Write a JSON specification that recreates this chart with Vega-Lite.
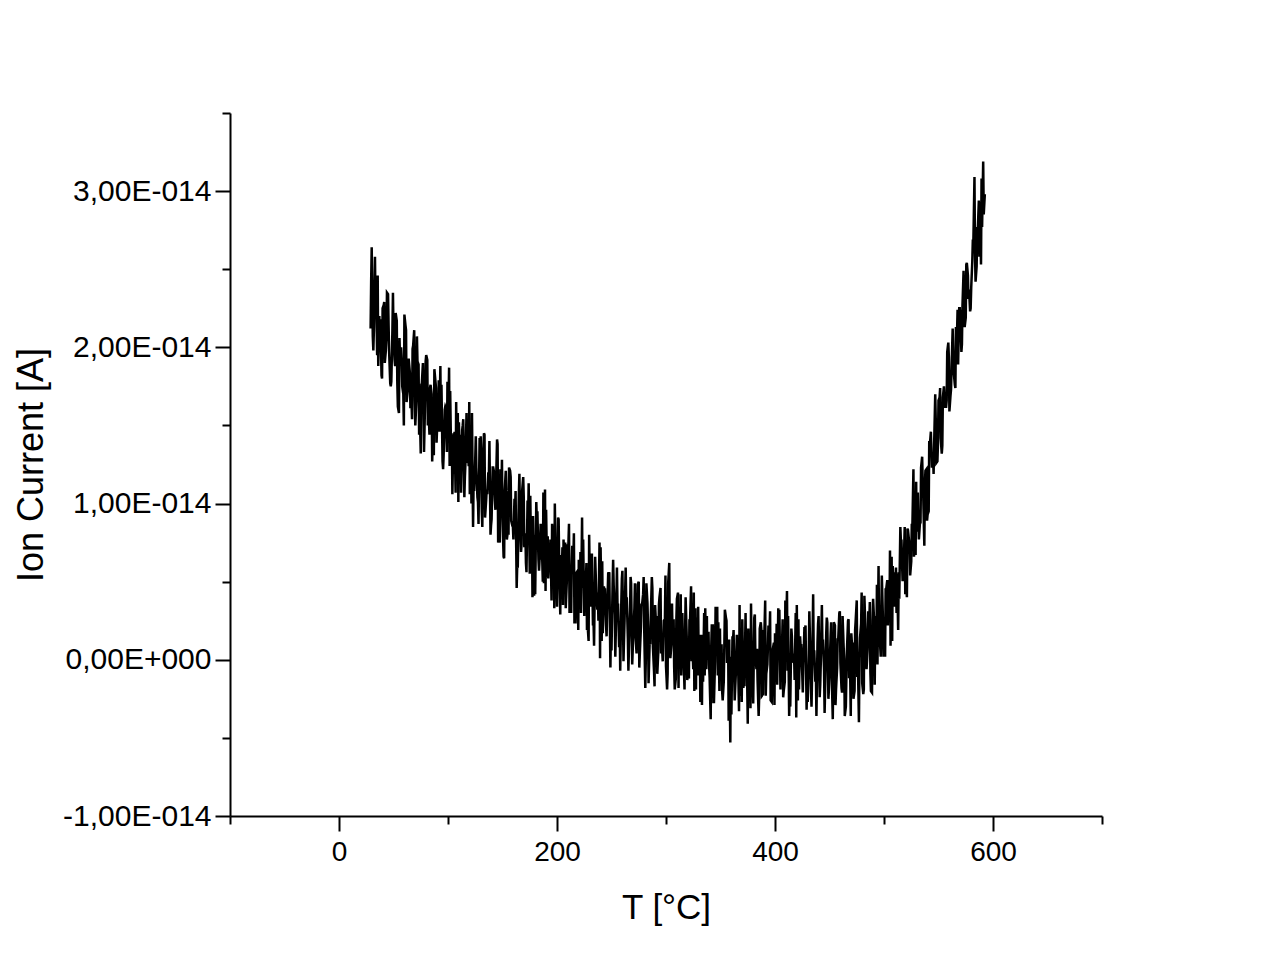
{
  "$schema": "https://vega.github.io/schema/vega-lite/v6.json",
  "width": 872,
  "height": 703,
  "autosize": {"type": "none"},
  "padding": {"left": 230, "top": 113, "right": 178, "bottom": 163},
  "background": "white",
  "config": {"view": {"stroke": null}, "font": "Liberation Sans"},
  "data": {"values": [
    {"T":29,"I":2.12e-14},{"T":30,"I":2.64e-14},{"T":31,"I":2.07e-14},{"T":33,"I":2.58e-14},{"T":35,"I":1.95e-14},{"T":37,"I":2.20e-14},{"T":39,"I":1.82e-14},
    {"T":41,"I":2.27e-14},{"T":43,"I":1.98e-14},{"T":45,"I":2.34e-14},{"T":47,"I":1.77e-14},{"T":49,"I":2.11e-14},{"T":51,"I":1.92e-14},{"T":53,"I":2.17e-14},
    {"T":55,"I":1.58e-14},{"T":57,"I":2.00e-14},{"T":59,"I":1.70e-14},{"T":61,"I":2.14e-14},{"T":63,"I":1.72e-14},{"T":65,"I":1.84e-14},{"T":67,"I":1.54e-14},
    {"T":69,"I":2.11e-14},{"T":71,"I":1.66e-14},{"T":73,"I":1.89e-14},{"T":75,"I":1.32e-14},{"T":77,"I":1.90e-14},{"T":79,"I":1.66e-14},{"T":81,"I":1.92e-14},
    {"T":83,"I":1.44e-14},{"T":85,"I":1.70e-14},{"T":87,"I":1.31e-14},{"T":89,"I":1.74e-14},{"T":91,"I":1.49e-14},{"T":93,"I":1.88e-14},{"T":95,"I":1.27e-14},
    {"T":97,"I":1.60e-14},{"T":99,"I":1.33e-14},{"T":101,"I":1.87e-14},{"T":103,"I":1.24e-14},{"T":105,"I":1.45e-14},{"T":107,"I":1.07e-14},{"T":109,"I":1.58e-14},
    {"T":111,"I":1.26e-14},{"T":113,"I":1.47e-14},{"T":115,"I":1.04e-14},{"T":117,"I":1.58e-14},{"T":119,"I":1.24e-14},{"T":121,"I":1.44e-14},{"T":123,"I":0.85e-14},
    {"T":125,"I":1.29e-14},{"T":127,"I":1.04e-14},{"T":129,"I":1.42e-14},{"T":131,"I":0.95e-14},{"T":133,"I":1.45e-14},{"T":135,"I":1.02e-14},{"T":137,"I":1.20e-14},
    {"T":139,"I":0.80e-14},{"T":141,"I":1.23e-14},{"T":143,"I":1.02e-14},{"T":145,"I":1.41e-14},{"T":147,"I":0.79e-14},{"T":149,"I":1.07e-14},{"T":151,"I":0.66e-14},
    {"T":153,"I":1.21e-14},{"T":155,"I":0.83e-14},{"T":157,"I":1.21e-14},{"T":159,"I":0.86e-14},{"T":161,"I":1.03e-14},{"T":163,"I":0.46e-14},{"T":165,"I":1.06e-14},
    {"T":167,"I":0.69e-14},{"T":169,"I":1.17e-14},{"T":171,"I":0.81e-14},{"T":173,"I":1.02e-14},{"T":175,"I":0.55e-14},{"T":177,"I":0.86e-14},{"T":179,"I":0.41e-14},
    {"T":181,"I":1.01e-14},{"T":183,"I":0.64e-14},{"T":185,"I":0.87e-14},{"T":187,"I":0.50e-14},{"T":189,"I":1.09e-14},{"T":191,"I":0.53e-14},{"T":193,"I":0.70e-14},
    {"T":195,"I":0.38e-14},{"T":197,"I":0.86e-14},{"T":199,"I":0.55e-14},{"T":201,"I":0.91e-14},{"T":203,"I":0.29e-14},{"T":205,"I":0.72e-14},{"T":207,"I":0.52e-14},
    {"T":209,"I":0.50e-14},{"T":211,"I":0.87e-14},{"T":213,"I":0.30e-14},{"T":215,"I":0.65e-14},{"T":217,"I":0.24e-14},{"T":219,"I":0.57e-14},{"T":221,"I":0.36e-14},
    {"T":223,"I":0.91e-14},{"T":225,"I":0.28e-14},{"T":227,"I":0.62e-14},{"T":229,"I":0.12e-14},{"T":231,"I":0.45e-14},{"T":233,"I":0.22e-14},{"T":235,"I":0.66e-14},
    {"T":237,"I":0.32e-14},{"T":239,"I":0.75e-14},{"T":241,"I":0.12e-14},{"T":243,"I":0.47e-14},{"T":245,"I":0.22e-14},{"T":247,"I":0.56e-14},{"T":249,"I":-0.05e-14},
    {"T":251,"I":0.48e-14},{"T":253,"I":0.29e-14},{"T":255,"I":0.59e-14},{"T":257,"I":0.08e-14},{"T":259,"I":0.37e-14},{"T":261,"I":-0.01e-14},{"T":263,"I":0.59e-14},
    {"T":265,"I":0.14e-14},{"T":267,"I":0.31e-14},{"T":269,"I":-0.03e-14},{"T":271,"I":0.33e-14},{"T":273,"I":0.04e-14},{"T":275,"I":0.50e-14},{"T":277,"I":0.21e-14},
    {"T":279,"I":0.42e-14},{"T":281,"I":-0.18e-14},{"T":283,"I":0.36e-14},{"T":285,"I":0.11e-14},{"T":287,"I":0.53e-14},{"T":289,"I":-0.07e-14},{"T":291,"I":0.21e-14},
    {"T":293,"I":0.06e-14},{"T":295,"I":0.46e-14},{"T":297,"I":-0.01e-14},{"T":299,"I":0.26e-14},{"T":301,"I":-0.19e-14},{"T":303,"I":0.62e-14},{"T":305,"I":0.10e-14},
    {"T":307,"I":0.26e-14},{"T":309,"I":-0.12e-14},{"T":311,"I":0.43e-14},{"T":313,"I":0.04e-14},{"T":315,"I":0.30e-14},{"T":317,"I":-0.19e-14},{"T":319,"I":0.15e-14},
    {"T":321,"I":-0.12e-14},{"T":323,"I":0.47e-14},{"T":325,"I":-0.06e-14},{"T":327,"I":0.33e-14},{"T":329,"I":-0.10e-14},{"T":331,"I":0.13e-14},{"T":333,"I":-0.29e-14},
    {"T":335,"I":0.30e-14},{"T":337,"I":-0.06e-14},{"T":339,"I":0.18e-14},{"T":341,"I":-0.38e-14},{"T":343,"I":0.22e-14},{"T":345,"I":-0.01e-14},{"T":347,"I":0.34e-14},
    {"T":349,"I":-0.20e-14},{"T":351,"I":0.10e-14},{"T":353,"I":-0.14e-14},{"T":355,"I":0.27e-14},{"T":357,"I":0.12e-14},{"T":359,"I":-0.53e-14},{"T":361,"I":0.15e-14},
    {"T":363,"I":-0.26e-14},{"T":365,"I":0.16e-14},{"T":367,"I":-0.33e-14},{"T":369,"I":0.20e-14},{"T":371,"I":-0.18e-14},{"T":373,"I":0.30e-14},{"T":375,"I":-0.41e-14},
    {"T":377,"I":0.08e-14},{"T":379,"I":-0.22e-14},{"T":381,"I":0.27e-14},{"T":383,"I":-0.06e-14},{"T":385,"I":-0.36e-14},{"T":387,"I":0.24e-14},{"T":389,"I":-0.22e-14},
    {"T":391,"I":0.38e-14},{"T":393,"I":-0.03e-14},{"T":395,"I":0.18e-14},{"T":397,"I":-0.27e-14},{"T":399,"I":0.11e-14},{"T":401,"I":-0.09e-14},{"T":403,"I":0.33e-14},
    {"T":405,"I":-0.19e-14},{"T":407,"I":0.26e-14},{"T":409,"I":-0.14e-14},{"T":411,"I":0.44e-14},{"T":413,"I":-0.36e-14},{"T":415,"I":0.20e-14},{"T":417,"I":-0.02e-14},
    {"T":419,"I":0.30e-14},{"T":421,"I":-0.26e-14},{"T":423,"I":0.15e-14},{"T":425,"I":-0.09e-14},{"T":427,"I":0.21e-14},{"T":429,"I":-0.32e-14},{"T":431,"I":0.04e-14},
    {"T":433,"I":-0.19e-14},{"T":435,"I":0.42e-14},{"T":437,"I":-0.14e-14},{"T":439,"I":0.11e-14},{"T":441,"I":-0.24e-14},{"T":443,"I":0.35e-14},{"T":445,"I":-0.06e-14},
    {"T":447,"I":0.17e-14},{"T":449,"I":-0.25e-14},{"T":451,"I":0.15e-14},{"T":453,"I":-0.38e-14},{"T":455,"I":0.22e-14},{"T":457,"I":-0.05e-14},{"T":459,"I":0.30e-14},
    {"T":461,"I":-0.18e-14},{"T":463,"I":0.08e-14},{"T":465,"I":-0.30e-14},{"T":467,"I":0.25e-14},{"T":469,"I":-0.11e-14},{"T":471,"I":0.06e-14},{"T":473,"I":-0.20e-14},
    {"T":475,"I":0.38e-14},{"T":477,"I":-0.40e-14},{"T":479,"I":0.23e-14},{"T":481,"I":-0.22e-14},{"T":483,"I":0.19e-14},{"T":485,"I":0.07e-14},{"T":487,"I":0.37e-14},
    {"T":489,"I":-0.21e-14},{"T":491,"I":0.24e-14},{"T":493,"I":0.02e-14},{"T":495,"I":0.60e-14},{"T":497,"I":0.02e-14},{"T":499,"I":0.27e-14},{"T":501,"I":0.02e-14},
    {"T":503,"I":0.51e-14},{"T":505,"I":0.27e-14},{"T":507,"I":0.66e-14},{"T":509,"I":0.37e-14},{"T":511,"I":0.59e-14},{"T":513,"I":0.19e-14},{"T":515,"I":0.85e-14},
    {"T":517,"I":0.51e-14},{"T":519,"I":0.85e-14},{"T":521,"I":0.40e-14},{"T":523,"I":0.76e-14},{"T":525,"I":0.63e-14},{"T":527,"I":1.22e-14},{"T":529,"I":0.67e-14},
    {"T":531,"I":1.07e-14},{"T":533,"I":0.88e-14},{"T":535,"I":1.30e-14},{"T":537,"I":0.73e-14},{"T":539,"I":1.22e-14},{"T":541,"I":0.95e-14},{"T":543,"I":1.46e-14},
    {"T":545,"I":1.30e-14},{"T":547,"I":1.70e-14},{"T":549,"I":1.27e-14},{"T":551,"I":1.68e-14},{"T":553,"I":1.32e-14},{"T":555,"I":1.75e-14},{"T":557,"I":1.62e-14},
    {"T":559,"I":2.03e-14},{"T":561,"I":1.69e-14},{"T":563,"I":2.12e-14},{"T":565,"I":1.76e-14},{"T":567,"I":2.09e-14},{"T":569,"I":2.25e-14},{"T":571,"I":1.97e-14},
    {"T":573,"I":2.49e-14},{"T":575,"I":2.19e-14},{"T":577,"I":2.46e-14},{"T":579,"I":2.23e-14},{"T":581,"I":2.55e-14},{"T":583,"I":3.09e-14},{"T":585,"I":2.52e-14},
    {"T":587,"I":2.94e-14},{"T":589,"I":2.53e-14},{"T":591,"I":3.19e-14},{"T":592.5,"I":2.98e-14},
    {"T":32,"I":2.11e-14},{"T":34,"I":2.38e-14},{"T":36,"I":1.88e-14},{"T":38,"I":2.18e-14},{"T":40,"I":2.25e-14},{"T":42,"I":1.90e-14},{"T":44,"I":2.35e-14},
    {"T":46,"I":1.97e-14},{"T":48,"I":1.78e-14},{"T":50,"I":2.10e-14},{"T":52,"I":2.22e-14},{"T":54,"I":1.62e-14},{"T":56,"I":1.93e-14},{"T":58,"I":1.75e-14},
    {"T":60,"I":2.21e-14},{"T":62,"I":1.65e-14},{"T":64,"I":1.92e-14},{"T":66,"I":1.77e-14},{"T":68,"I":2.01e-14},{"T":70,"I":1.50e-14},{"T":72,"I":1.91e-14},
    {"T":74,"I":1.62e-14},{"T":76,"I":1.77e-14},{"T":78,"I":1.33e-14},{"T":80,"I":1.95e-14},{"T":82,"I":1.63e-14},{"T":84,"I":1.76e-14},{"T":86,"I":1.41e-14},
    {"T":88,"I":1.82e-14},{"T":90,"I":1.48e-14},{"T":92,"I":1.46e-14},{"T":94,"I":1.76e-14},{"T":96,"I":1.31e-14},{"T":98,"I":1.61e-14},{"T":100,"I":1.44e-14},
    {"T":102,"I":1.72e-14},{"T":104,"I":1.06e-14},{"T":106,"I":1.46e-14},{"T":108,"I":1.27e-14},{"T":110,"I":1.52e-14},{"T":112,"I":1.07e-14},{"T":114,"I":1.54e-14},
    {"T":116,"I":1.26e-14},{"T":118,"I":1.37e-14},{"T":120,"I":1.06e-14},{"T":122,"I":1.58e-14},{"T":124,"I":1.08e-14},{"T":126,"I":1.23e-14},{"T":128,"I":0.87e-14},
    {"T":130,"I":1.43e-14},{"T":132,"I":1.27e-14},{"T":134,"I":0.91e-14},{"T":136,"I":1.06e-14},{"T":138,"I":1.40e-14},{"T":140,"I":0.90e-14},{"T":142,"I":1.21e-14},
    {"T":144,"I":1.10e-14},{"T":146,"I":0.75e-14},{"T":148,"I":1.22e-14},{"T":150,"I":0.90e-14},{"T":152,"I":1.08e-14},{"T":154,"I":0.77e-14},{"T":156,"I":1.23e-14},
    {"T":158,"I":0.89e-14},{"T":160,"I":0.77e-14},{"T":162,"I":1.08e-14},{"T":164,"I":0.59e-14},{"T":166,"I":0.93e-14},{"T":168,"I":1.08e-14},{"T":170,"I":0.72e-14},
    {"T":172,"I":0.56e-14},{"T":174,"I":1.13e-14},{"T":176,"I":0.77e-14},{"T":178,"I":0.92e-14},{"T":180,"I":0.42e-14},{"T":182,"I":0.95e-14},{"T":184,"I":0.64e-14},
    {"T":186,"I":0.76e-14},{"T":188,"I":0.49e-14},{"T":190,"I":0.96e-14},{"T":192,"I":0.52e-14},{"T":194,"I":0.77e-14},{"T":196,"I":0.59e-14},{"T":198,"I":1.00e-14},
    {"T":200,"I":0.34e-14},{"T":202,"I":0.63e-14},{"T":204,"I":0.46e-14},{"T":206,"I":0.77e-14},{"T":208,"I":0.33e-14},{"T":210,"I":0.63e-14},{"T":212,"I":0.44e-14},
    {"T":214,"I":0.73e-14},{"T":216,"I":0.24e-14},{"T":218,"I":0.56e-14},{"T":220,"I":0.64e-14},{"T":222,"I":0.30e-14},{"T":224,"I":0.77e-14},{"T":226,"I":0.40e-14},
    {"T":228,"I":0.23e-14},{"T":230,"I":0.55e-14},{"T":232,"I":0.68e-14},{"T":234,"I":0.09e-14},{"T":236,"I":0.42e-14},{"T":238,"I":0.25e-14},{"T":240,"I":0.72e-14},
    {"T":242,"I":0.17e-14},{"T":244,"I":0.45e-14},{"T":246,"I":0.31e-14},{"T":248,"I":0.56e-14},{"T":250,"I":0.06e-14},{"T":252,"I":0.48e-14},{"T":254,"I":0.20e-14},
    {"T":256,"I":0.36e-14},{"T":258,"I":-0.07e-14},{"T":260,"I":0.57e-14},{"T":262,"I":0.26e-14},{"T":264,"I":0.40e-14},{"T":266,"I":0.07e-14},{"T":268,"I":0.49e-14},
    {"T":270,"I":0.17e-14},{"T":272,"I":0.16e-14},{"T":274,"I":0.48e-14},{"T":276,"I":0.04e-14},{"T":278,"I":0.35e-14},{"T":280,"I":0.20e-14},{"T":282,"I":0.49e-14},
    {"T":284,"I":-0.15e-14},{"T":286,"I":0.26e-14},{"T":288,"I":0.08e-14},{"T":290,"I":0.35e-14},{"T":292,"I":-0.09e-14},{"T":294,"I":0.40e-14},{"T":296,"I":0.13e-14},
    {"T":298,"I":0.25e-14},{"T":300,"I":-0.04e-14},{"T":302,"I":0.49e-14},{"T":304,"I":0.01e-14},{"T":306,"I":0.16e-14},{"T":308,"I":-0.19e-14},{"T":310,"I":0.39e-14},
    {"T":312,"I":0.24e-14},{"T":314,"I":-0.10e-14},{"T":316,"I":0.05e-14},{"T":318,"I":0.40e-14},{"T":320,"I":-0.08e-14},{"T":322,"I":0.24e-14},{"T":324,"I":0.14e-14},
    {"T":326,"I":-0.20e-14},{"T":328,"I":0.27e-14},{"T":330,"I":-0.03e-14},{"T":332,"I":0.16e-14},{"T":334,"I":-0.14e-14},{"T":336,"I":0.33e-14},{"T":338,"I":0.00e-14},
    {"T":340,"I":-0.11e-14},{"T":342,"I":0.22e-14},{"T":344,"I":-0.27e-14},{"T":346,"I":0.08e-14},{"T":348,"I":0.24e-14},{"T":350,"I":-0.11e-14},{"T":352,"I":-0.26e-14},
    {"T":354,"I":0.32e-14},{"T":356,"I":-0.02e-14},{"T":358,"I":0.13e-14},{"T":360,"I":-0.35e-14},{"T":362,"I":0.19e-14},{"T":364,"I":-0.10e-14},{"T":366,"I":0.03e-14},
    {"T":368,"I":-0.23e-14},{"T":370,"I":0.26e-14},{"T":372,"I":-0.17e-14},{"T":374,"I":0.10e-14},{"T":376,"I":-0.07e-14},{"T":378,"I":0.36e-14},{"T":380,"I":-0.28e-14},
    {"T":382,"I":0.02e-14},{"T":384,"I":-0.13e-14},{"T":386,"I":0.20e-14},{"T":388,"I":-0.23e-14},{"T":390,"I":0.09e-14},{"T":392,"I":-0.09e-14},{"T":394,"I":0.22e-14},
    {"T":396,"I":-0.26e-14},{"T":398,"I":0.07e-14},{"T":400,"I":0.17e-14},{"T":402,"I":-0.16e-14},{"T":404,"I":0.32e-14},{"T":406,"I":-0.04e-14},{"T":408,"I":-0.20e-14},
    {"T":410,"I":0.14e-14},{"T":412,"I":0.28e-14},{"T":414,"I":-0.30e-14},{"T":416,"I":0.03e-14},{"T":418,"I":-0.13e-14},{"T":420,"I":0.35e-14},{"T":422,"I":-0.19e-14},
    {"T":424,"I":0.10e-14},{"T":426,"I":-0.04e-14},{"T":428,"I":0.22e-14},{"T":430,"I":-0.27e-14},{"T":432,"I":0.16e-14},{"T":434,"I":-0.11e-14},{"T":436,"I":0.06e-14},
    {"T":438,"I":-0.36e-14},{"T":440,"I":0.28e-14},{"T":442,"I":-0.02e-14},{"T":444,"I":0.13e-14},{"T":446,"I":-0.19e-14},{"T":448,"I":0.24e-14},{"T":450,"I":-0.08e-14},
    {"T":452,"I":-0.08e-14},{"T":454,"I":0.24e-14},{"T":456,"I":-0.19e-14},{"T":458,"I":0.13e-14},{"T":460,"I":-0.02e-14},{"T":462,"I":0.28e-14},{"T":464,"I":-0.36e-14},
    {"T":466,"I":0.06e-14},{"T":468,"I":-0.11e-14},{"T":470,"I":0.17e-14},{"T":472,"I":-0.25e-14},{"T":474,"I":0.25e-14},{"T":476,"I":0.00e-14},{"T":478,"I":0.14e-14},
    {"T":480,"I":-0.15e-14},{"T":482,"I":0.41e-14},{"T":484,"I":-0.06e-14},{"T":486,"I":0.12e-14},{"T":488,"I":-0.20e-14},{"T":490,"I":0.39e-14},{"T":492,"I":0.28e-14},
    {"T":494,"I":-0.03e-14},{"T":496,"I":0.15e-14},{"T":498,"I":0.54e-14},{"T":500,"I":0.08e-14},{"T":502,"I":0.45e-14},{"T":504,"I":0.38e-14},{"T":506,"I":0.09e-14},
    {"T":508,"I":0.60e-14},{"T":510,"I":0.34e-14},{"T":512,"I":0.55e-14},{"T":514,"I":0.39e-14},{"T":516,"I":0.77e-14},{"T":518,"I":0.57e-14},{"T":520,"I":0.55e-14},
    {"T":522,"I":0.83e-14},{"T":524,"I":0.54e-14},{"T":526,"I":0.84e-14},{"T":528,"I":1.00e-14},{"T":530,"I":0.82e-14},{"T":532,"I":0.77e-14},{"T":534,"I":1.23e-14},
    {"T":536,"I":1.05e-14},{"T":538,"I":1.21e-14},{"T":540,"I":0.93e-14},{"T":542,"I":1.37e-14},{"T":544,"I":1.23e-14},{"T":546,"I":1.38e-14},{"T":548,"I":1.26e-14},
    {"T":550,"I":1.66e-14},{"T":552,"I":1.42e-14},{"T":554,"I":1.68e-14},{"T":556,"I":1.62e-14},{"T":558,"I":1.97e-14},{"T":560,"I":1.59e-14},{"T":562,"I":1.87e-14},
    {"T":564,"I":1.84e-14},{"T":566,"I":2.13e-14},{"T":568,"I":1.89e-14},{"T":570,"I":2.19e-14},{"T":572,"I":2.27e-14},{"T":574,"I":2.13e-14},{"T":576,"I":2.54e-14},
    {"T":578,"I":2.37e-14},{"T":580,"I":2.38e-14},{"T":582,"I":2.68e-14},{"T":584,"I":2.42e-14},{"T":586,"I":2.74e-14},{"T":588,"I":2.93e-14},{"T":590,"I":2.77e-14},
    {"T":29.5,"I":2.42e-14},{"T":31.5,"I":1.98e-14},{"T":33.5,"I":2.26e-14},{"T":35.5,"I":2.46e-14},{"T":37.5,"I":2.01e-14},{"T":39.5,"I":1.80e-14},{"T":41.5,"I":2.29e-14},
    {"T":43.5,"I":2.05e-14},{"T":45.5,"I":2.14e-14},{"T":47.5,"I":1.75e-14},{"T":49.5,"I":2.35e-14},{"T":51.5,"I":1.88e-14},{"T":53.5,"I":1.77e-14},{"T":55.5,"I":2.06e-14},
    {"T":57.5,"I":1.93e-14},{"T":59.5,"I":1.50e-14},{"T":61.5,"I":2.11e-14},{"T":63.5,"I":1.92e-14},{"T":65.5,"I":1.61e-14},{"T":67.5,"I":1.99e-14},{"T":69.5,"I":1.66e-14},
    {"T":71.5,"I":2.07e-14},{"T":73.5,"I":1.44e-14},{"T":75.5,"I":1.76e-14},{"T":77.5,"I":1.63e-14},{"T":79.5,"I":1.91e-14},{"T":81.5,"I":1.50e-14},{"T":83.5,"I":1.74e-14},
    {"T":85.5,"I":1.27e-14},{"T":87.5,"I":1.86e-14},{"T":89.5,"I":1.39e-14},{"T":91.5,"I":1.79e-14},{"T":93.5,"I":1.46e-14},{"T":95.5,"I":1.22e-14},{"T":97.5,"I":1.62e-14},
    {"T":99.5,"I":1.78e-14},{"T":101.5,"I":1.24e-14},{"T":103.5,"I":1.44e-14},{"T":105.5,"I":1.30e-14},{"T":107.5,"I":1.65e-14},{"T":109.5,"I":1.01e-14},{"T":111.5,"I":1.44e-14},
    {"T":113.5,"I":1.50e-14},{"T":115.5,"I":1.17e-14},{"T":117.5,"I":1.26e-14},{"T":119.5,"I":1.65e-14},{"T":121.5,"I":1.00e-14},{"T":123.5,"I":1.15e-14},{"T":125.5,"I":1.43e-14},
    {"T":127.5,"I":1.01e-14},{"T":129.5,"I":1.30e-14},{"T":131.5,"I":0.85e-14},{"T":133.5,"I":1.44e-14},{"T":135.5,"I":1.09e-14},{"T":137.5,"I":1.18e-14},{"T":139.5,"I":0.86e-14},
    {"T":141.5,"I":1.23e-14},{"T":143.5,"I":0.96e-14},{"T":145.5,"I":1.38e-14},{"T":147.5,"I":0.75e-14},{"T":149.5,"I":1.28e-14},{"T":151.5,"I":0.65e-14},{"T":153.5,"I":1.08e-14},
    {"T":155.5,"I":0.80e-14},{"T":157.5,"I":1.17e-14},{"T":159.5,"I":0.86e-14},{"T":161.5,"I":0.95e-14},{"T":163.5,"I":0.60e-14},{"T":165.5,"I":1.19e-14},{"T":167.5,"I":0.74e-14},
    {"T":169.5,"I":1.04e-14},{"T":171.5,"I":0.62e-14},{"T":173.5,"I":0.90e-14},{"T":175.5,"I":1.05e-14},{"T":177.5,"I":0.40e-14},{"T":179.5,"I":0.80e-14},{"T":181.5,"I":0.89e-14},
    {"T":183.5,"I":0.57e-14},{"T":185.5,"I":0.64e-14},{"T":187.5,"I":1.07e-14},{"T":189.5,"I":0.44e-14},{"T":191.5,"I":0.79e-14},{"T":193.5,"I":0.66e-14},{"T":195.5,"I":0.87e-14},
    {"T":197.5,"I":0.33e-14},{"T":199.5,"I":0.50e-14},{"T":201.5,"I":0.90e-14},{"T":203.5,"I":0.67e-14},{"T":205.5,"I":0.35e-14},{"T":207.5,"I":0.75e-14},{"T":209.5,"I":0.74e-14},
    {"T":211.5,"I":0.30e-14},{"T":213.5,"I":0.60e-14},{"T":215.5,"I":0.81e-14},{"T":217.5,"I":0.38e-14},{"T":219.5,"I":0.19e-14},{"T":221.5,"I":0.69e-14},{"T":223.5,"I":0.46e-14},
    {"T":225.5,"I":0.57e-14},{"T":227.5,"I":0.19e-14},{"T":229.5,"I":0.80e-14},{"T":231.5,"I":0.34e-14},{"T":233.5,"I":0.25e-14},{"T":235.5,"I":0.55e-14},{"T":237.5,"I":0.43e-14},
    {"T":239.5,"I":0.01e-14},{"T":241.5,"I":0.63e-14},{"T":243.5,"I":0.45e-14},{"T":245.5,"I":0.15e-14},{"T":247.5,"I":0.54e-14},{"T":249.5,"I":0.22e-14},{"T":251.5,"I":0.64e-14},
    {"T":253.5,"I":0.02e-14},{"T":255.5,"I":0.35e-14},{"T":257.5,"I":0.23e-14},{"T":259.5,"I":0.52e-14},{"T":261.5,"I":0.13e-14},{"T":263.5,"I":0.38e-14},{"T":265.5,"I":-0.07e-14},
    {"T":267.5,"I":0.53e-14},{"T":269.5,"I":0.07e-14},{"T":271.5,"I":0.49e-14},{"T":273.5,"I":0.17e-14},{"T":275.5,"I":-0.05e-14},{"T":277.5,"I":0.36e-14},{"T":279.5,"I":0.53e-14},
    {"T":281.5,"I":0.01e-14},{"T":283.5,"I":0.22e-14},{"T":285.5,"I":0.10e-14},{"T":287.5,"I":0.46e-14},{"T":289.5,"I":-0.17e-14},{"T":291.5,"I":0.28e-14},{"T":293.5,"I":0.35e-14},
    {"T":295.5,"I":0.04e-14},{"T":297.5,"I":0.14e-14},{"T":299.5,"I":0.54e-14},{"T":301.5,"I":-0.09e-14},{"T":303.5,"I":0.07e-14},{"T":305.5,"I":0.36e-14},{"T":307.5,"I":-0.05e-14},
    {"T":309.5,"I":0.25e-14},{"T":311.5,"I":-0.18e-14},{"T":313.5,"I":0.42e-14},{"T":315.5,"I":0.08e-14},{"T":317.5,"I":0.18e-14},{"T":319.5,"I":-0.13e-14},{"T":321.5,"I":0.26e-14},
    {"T":323.5,"I":-0.01e-14},{"T":325.5,"I":0.43e-14},{"T":327.5,"I":-0.19e-14},{"T":329.5,"I":0.34e-14},{"T":331.5,"I":-0.27e-14},{"T":333.5,"I":0.16e-14},{"T":335.5,"I":-0.10e-14},
    {"T":337.5,"I":0.28e-14},{"T":339.5,"I":-0.03e-14},{"T":341.5,"I":0.08e-14},{"T":343.5,"I":-0.27e-14},{"T":345.5,"I":0.34e-14},{"T":347.5,"I":-0.10e-14},{"T":349.5,"I":0.20e-14},
    {"T":351.5,"I":-0.20e-14},{"T":353.5,"I":0.08e-14},{"T":355.5,"I":0.25e-14},{"T":357.5,"I":-0.39e-14},{"T":359.5,"I":0.02e-14},{"T":361.5,"I":0.13e-14},{"T":363.5,"I":-0.18e-14},
    {"T":365.5,"I":-0.10e-14},{"T":367.5,"I":0.35e-14},{"T":369.5,"I":-0.27e-14},{"T":371.5,"I":0.10e-14},{"T":373.5,"I":-0.02e-14},{"T":375.5,"I":0.20e-14},{"T":377.5,"I":-0.31e-14},
    {"T":379.5,"I":-0.13e-14},{"T":381.5,"I":0.29e-14},{"T":383.5,"I":0.07e-14},{"T":385.5,"I":-0.23e-14},{"T":387.5,"I":0.19e-14},{"T":389.5,"I":0.19e-14},{"T":391.5,"I":-0.23e-14},
    {"T":393.5,"I":0.08e-14},{"T":395.5,"I":0.31e-14},{"T":397.5,"I":-0.11e-14},{"T":399.5,"I":-0.29e-14},{"T":401.5,"I":0.23e-14},{"T":403.5,"I":0.01e-14},{"T":405.5,"I":0.13e-14},
    {"T":407.5,"I":-0.24e-14},{"T":409.5,"I":0.38e-14},{"T":411.5,"I":-0.07e-14},{"T":413.5,"I":-0.15e-14},{"T":415.5,"I":0.15e-14},{"T":417.5,"I":0.04e-14},{"T":419.5,"I":-0.37e-14},
    {"T":421.5,"I":0.26e-14},{"T":423.5,"I":0.09e-14},{"T":425.5,"I":-0.21e-14},{"T":427.5,"I":0.19e-14},{"T":429.5,"I":-0.12e-14},{"T":431.5,"I":0.31e-14},{"T":433.5,"I":-0.30e-14},
    {"T":435.5,"I":0.04e-14},{"T":437.5,"I":-0.07e-14},{"T":439.5,"I":0.23e-14},{"T":441.5,"I":-0.16e-14},{"T":443.5,"I":0.10e-14},{"T":445.5,"I":-0.34e-14},{"T":447.5,"I":0.27e-14},
    {"T":449.5,"I":-0.18e-14},{"T":451.5,"I":0.24e-14},{"T":453.5,"I":-0.07e-14},{"T":455.5,"I":-0.29e-14},{"T":457.5,"I":0.13e-14},{"T":459.5,"I":0.31e-14},{"T":461.5,"I":-0.21e-14},
    {"T":463.5,"I":0.01e-14},{"T":465.5,"I":-0.11e-14},{"T":467.5,"I":0.26e-14},{"T":469.5,"I":-0.36e-14},{"T":471.5,"I":0.11e-14},{"T":473.5,"I":0.19e-14},{"T":475.5,"I":-0.11e-14},
    {"T":477.5,"I":0.01e-14},{"T":479.5,"I":0.43e-14},{"T":481.5,"I":-0.19e-14},{"T":483.5,"I":0.00e-14},{"T":485.5,"I":0.31e-14},{"T":487.5,"I":-0.08e-14},{"T":489.5,"I":0.25e-14},
    {"T":491.5,"I":-0.16e-14},{"T":493.5,"I":0.48e-14},{"T":495.5,"I":0.16e-14},{"T":497.5,"I":0.30e-14},{"T":499.5,"I":0.02e-14},{"T":501.5,"I":0.45e-14},{"T":503.5,"I":0.22e-14},
    {"T":505.5,"I":0.70e-14},{"T":507.5,"I":0.12e-14},{"T":509.5,"I":0.56e-14},{"T":511.5,"I":0.30e-14},{"T":513.5,"I":0.56e-14},{"T":515.5,"I":0.76e-14},{"T":517.5,"I":0.51e-14},
    {"T":519.5,"I":0.42e-14},{"T":521.5,"I":0.84e-14},{"T":523.5,"I":0.73e-14},{"T":525.5,"I":0.87e-14},{"T":527.5,"I":0.66e-14},{"T":529.5,"I":1.14e-14},{"T":531.5,"I":0.88e-14},
    {"T":533.5,"I":0.88e-14},{"T":535.5,"I":1.15e-14},{"T":537.5,"I":1.12e-14},{"T":539.5,"I":0.89e-14},{"T":541.5,"I":1.40e-14},{"T":543.5,"I":1.34e-14},{"T":545.5,"I":1.19e-14},
    {"T":547.5,"I":1.53e-14},{"T":549.5,"I":1.38e-14},{"T":551.5,"I":1.74e-14},{"T":553.5,"I":1.37e-14},{"T":555.5,"I":1.68e-14},{"T":557.5,"I":1.66e-14},{"T":559.5,"I":1.94e-14},
    {"T":561.5,"I":1.73e-14},{"T":563.5,"I":1.98e-14},{"T":565.5,"I":1.74e-14},{"T":567.5,"I":2.24e-14},{"T":569.5,"I":2.25e-14},{"T":571.5,"I":2.02e-14},{"T":573.5,"I":2.31e-14},
    {"T":575.5,"I":2.53e-14},{"T":577.5,"I":2.31e-14},{"T":579.5,"I":2.25e-14},{"T":581.5,"I":2.69e-14},{"T":583.5,"I":2.60e-14},{"T":585.5,"I":2.77e-14},{"T":587.5,"I":2.58e-14},
    {"T":589.5,"I":3.08e-14},{"T":591.5,"I":2.85e-14}
  ]},
  "mark": {"type": "line", "color": "black", "strokeWidth": 2.5, "clip": true},
  "encoding": {
    "x": {
      "field": "T", "type": "quantitative",
      "scale": {"domain": [-100, 700], "nice": false, "zero": false},
      "axis": {
        "title": "T [°C]",
        "values": [-100, 0, 100, 200, 300, 400, 500, 600, 700],
        "labelExpr": "datum.value % 200 == 0 ? datum.label : ''",
        "grid": false,
        "domainColor": "black", "domainWidth": 2,
        "tickColor": "black", "tickWidth": 2,
        "tickSize": {"condition": {"test": "datum.value % 200 == 0", "value": 15}, "value": 8},
        "labelColor": "black", "labelFontSize": 28, "labelPadding": 7, "labelFlush": false,
        "titleColor": "black", "titleFontSize": 35, "titleFontWeight": "normal", "titlePadding": 24
      }
    },
    "y": {
      "field": "I", "type": "quantitative",
      "scale": {"domain": [-1e-14, 3.5e-14], "nice": false, "zero": false},
      "axis": {
        "title": "Ion Current [A]",
        "values": [-1e-14, -0.5e-14, 0, 0.5e-14, 1e-14, 1.5e-14, 2e-14, 2.5e-14, 3e-14, 3.5e-14],
        "labelExpr": "abs(datum.value*1e14 - round(datum.value*1e14)) < 0.01 ? (datum.value == 0 ? '0,00E+000' : (datum.value < 0 ? '-' : '') + replace(format(abs(datum.value*1e14), '.2f'), '.', ',') + 'E-014') : ''",
        "grid": false,
        "domainColor": "black", "domainWidth": 2,
        "tickColor": "black", "tickWidth": 2,
        "tickSize": {"condition": {"test": "abs(datum.value*1e14 - round(datum.value*1e14)) < 0.01", "value": 15}, "value": 8},
        "labelColor": "black", "labelFontSize": 30, "labelPadding": 4, "labelFlush": false,
        "titleColor": "black", "titleFontSize": 36, "titleFontWeight": "normal", "titlePadding": 12
      }
    }
  }
}
